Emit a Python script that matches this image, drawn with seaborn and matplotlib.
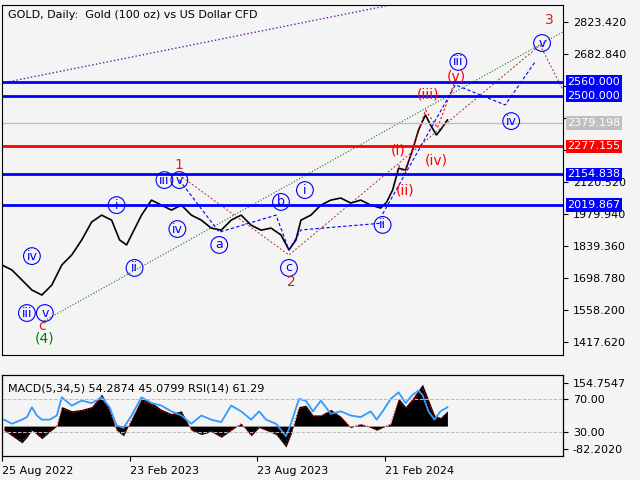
import numpy as np
import pandas as pd
import matplotlib
matplotlib.use("Agg")
import matplotlib.pyplot as plt
import seaborn as sns

# price series, x = trading day index since 25 Aug 2022
days = [0, 10, 20, 30, 40, 50, 60, 70, 80, 90, 100, 110, 118, 125, 130, 140, 150, 160, 170, 180,
        190, 200, 210, 220, 230, 240, 250, 260, 270, 280, 288, 295, 300, 310, 320, 330, 340, 350,
        360, 370, 380, 386, 392, 398, 405, 412, 418, 425, 430, 436, 440, 447]
prices = [1756, 1734, 1690, 1646, 1624, 1668, 1756, 1800, 1866, 1945, 1975, 1953, 1866, 1844, 1888,
          1975, 2041, 2019, 1997, 2019, 1975, 1953, 1918, 1909, 1953, 1975, 1931, 1909, 1918, 1888,
          1822, 1866, 1953, 1975, 2019, 2041, 2050, 2028, 2041, 2019, 2006, 2032, 2085, 2181, 2173,
          2261, 2349, 2415, 2371, 2327, 2349, 2393]

ind_days = [2, 10, 20, 25, 30, 35, 40, 48, 55, 60, 70, 80, 90, 100, 108, 115, 122, 130, 140, 150,
            160, 170, 180, 190, 200, 210, 220, 230, 240, 250, 258, 265, 275, 285, 290, 298, 305,
            312, 320, 330, 340, 350, 360, 370, 376, 382, 390, 398, 405, 412, 418, 422, 428, 434,
            440, 447]
macd = [-15, -35, -60, -40, -15, -30, -45, -20, 0, 70, 55, 60, 70, 115, 60, -15, -35, 25, 100, 85,
        60, 45, 55, -15, -30, -20, -40, -15, 10, -35, -5, -15, -30, -75, -30, 70, 75, 40, 40, 60,
        35, -5, 8, -5, -15, -5, 8, 100, 70, 100, 130, 150, 95, 40, 30, 55]
rsi = [45, 40, 45, 48, 60, 50, 45, 45, 50, 72, 62, 68, 65, 72, 60, 38, 35, 50, 72, 65, 62, 55, 50,
       40, 50, 45, 42, 62, 55, 45, 55, 45, 40, 25, 40, 70, 68, 55, 68, 52, 55, 50, 48, 55, 45, 55,
       70, 78, 65, 75, 80, 75, 55, 45, 55, 60]

levels = [2560.0, 2500.0, 2379.198, 2277.155, 2154.838, 2019.867]
level_colors = ["#0000ff", "#0000ff", "#c0c0c0", "#ff0000", "#0000ff", "#0000ff"]
price_ticks = [2823.42, 2682.84, 2542.26, 2401.68, 2261.10, 2120.52, 1979.94, 1839.36, 1698.78,
               1558.20, 1417.62]
hidden_ticks = [2542.26, 2401.68, 2261.10]
date_ticks = [0, 128, 256, 384]
date_labels = ["25 Aug 2022", "23 Feb 2023", "23 Aug 2023", "21 Feb 2024"]

# wave labels: (text, day, price)
circled = [("i", 115, 2019), ("ii", 133, 1743), ("iii", 163, 2129), ("v", 178, 2129),
           ("iv", 176, 1914), ("iii", 25, 1545), ("v", 43, 1545), ("iv", 30, 1795),
           ("a", 218, 1844), ("b", 280, 2033), ("c", 288, 1743), ("i", 304, 2085),
           ("ii", 382, 1932), ("iii", 458, 2648), ("iv", 511, 2388), ("v", 542, 2731)]
red_labels = [("1", 178, 2195), ("2", 290, 1681), ("3", 549, 2832), ("c", 40, 1488),
              ("(i)", 398, 2261), ("(ii)", 404, 2081), ("(iii)", 428, 2507), ("(iv)", 436, 2213),
              ("(v)", 456, 2582)]

purple_x, purple_y = [0, 390], [2555, 2898]
green_x, green_y = [40, 563], [1505, 2780]
red_x, red_y = [178, 288, 540, 563], [2151, 1800, 2722, 2525]
red2_x, red2_y = [398, 404, 425, 437, 455], [2195, 2151, 2437, 2358, 2569]
blue_x, blue_y = [382, 455, 505, 535], [1980, 2547, 2459, 2648]
blue2_x, blue2_y = [178, 218, 275, 288, 300, 382], [2129, 1900, 1975, 1822, 1910, 1940]

bg = "#f4f4f4"
plt.rcParams["font.family"] = "DejaVu Sans"
fig = plt.figure(figsize=(6.4, 4.8), dpi=100, facecolor=bg)
ax = fig.add_axes([2/640, 1-355/480, 561/640, 350/480], facecolor=bg)
ax2 = fig.add_axes([2/640, 1-456/480, 561/640, 81/480], facecolor=bg, sharex=ax)

df = pd.DataFrame({"day": days, "price": prices})
sns.lineplot(data=df, x="day", y="price", ax=ax, color="black", lw=1.2)
ax.set_xlim(0, 563)
ax.set_ylim(1360.6, 2898)

ax.plot(purple_x, purple_y, ls=":", color="#6a1b9a", lw=1)
ax.plot(green_x, green_y, ls=":", color="green", lw=0.8)
ax.plot(red_x, red_y, ls="--", color="#b03030", lw=0.7, dashes=(2, 2))
ax.plot(red2_x, red2_y, ls="--", color="red", lw=0.8, dashes=(2, 2))
ax.plot(blue_x, blue_y, ls="--", color="blue", lw=0.8, dashes=(3, 2))
ax.plot(blue2_x, blue2_y, ls="--", color="blue", lw=0.8, dashes=(3, 2))

for lv, c in zip(levels, level_colors):
    ax.axhline(lv, color=c, lw=2 if c != "#c0c0c0" else 1)

ax.yaxis.tick_right()
ax.set_yticks(price_ticks)
ax.set_yticklabels(["" if t in hidden_ticks else f"{t:.3f}" for t in price_ticks], fontsize=8)
ax.tick_params(axis="x", bottom=False, labelbottom=False)
ax.set_xlabel("")
ax.set_ylabel("")
for lv, c in zip(levels, level_colors):
    ax.text(1.008, lv, f"{lv:.3f}", transform=ax.get_yaxis_transform(), va="center", ha="left",
            fontsize=8, color="white", bbox=dict(boxstyle="square,pad=0.15", fc=c, ec="none"))

for t, x, y in circled:
    ax.text(x, y, t, color="blue", fontsize=9, ha="center", va="center",
            bbox=dict(boxstyle="circle,pad=0.15", fc="none", ec="blue", lw=0.8))
for t, x, y in red_labels:
    ax.text(x, y, t, color="#cc2222" if not t.startswith("(") else "red", fontsize=10,
            ha="center", va="center")
ax.text(43, 1435, "(4)", color="green", fontsize=10, ha="center", va="center")
ax.text(0.01, 0.985, "GOLD, Daily:  Gold (100 oz) vs US Dollar CFD", transform=ax.transAxes,
        fontsize=8, va="top")

# indicator panel
ax2.fill_between(ind_days, 0, macd, color="black", lw=0)
ax2.plot(ind_days, [m * 0.9 for m in macd], ls=":", color="red", lw=0.8)
ax2.set_ylim(-107, 183)
r = ax2.twinx()
r.plot(ind_days, rsi, color="#3399ff", lw=1.3)
r.set_ylim(1, 99)
r.set_yticks([70, 30])
r.set_yticklabels(["70.00", "30.00"], fontsize=8)
for v in (70, 30):
    r.axhline(v, color="#bbbbbb", ls="--", lw=0.7)
ax2.yaxis.tick_right()
ax2.set_yticks([154.7547, -82.202])
ax2.set_yticklabels(["154.7547", "-82.2020"], fontsize=8)
ax2.set_xticks(date_ticks)
ax2.set_xticklabels(date_labels, fontsize=8, ha="left")
ax2.text(0.01, 0.9, "MACD(5,34,5) 54.2874 45.0799 RSI(14) 61.29", transform=ax2.transAxes,
         fontsize=8, va="top")

plt.savefig("out.png", dpi=100, facecolor=bg)
